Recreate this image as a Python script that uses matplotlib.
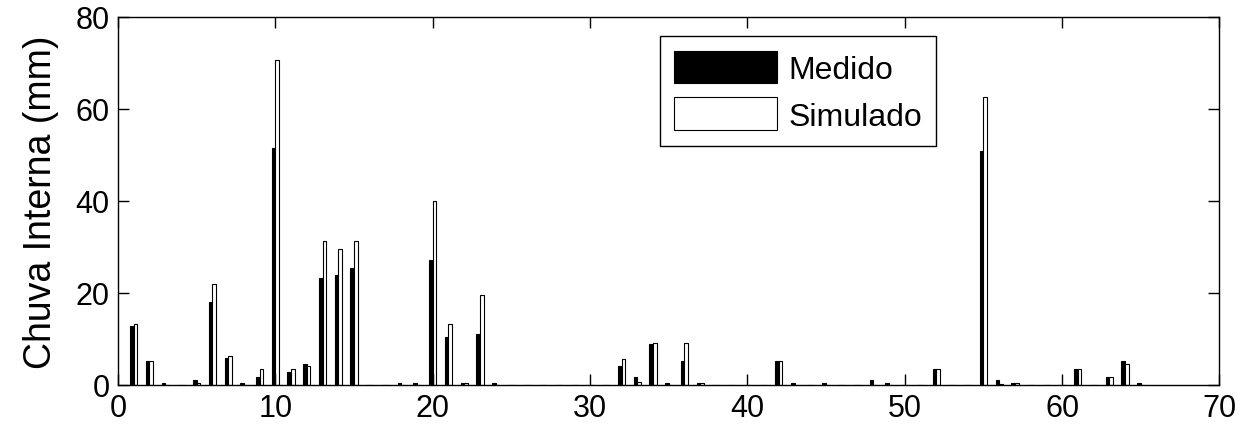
import numpy as np
import matplotlib.pyplot as plt

plt.rcParams['font.family'] = ['Liberation Sans', 'DejaVu Sans']

# daily internal rainfall (mm), days 1..65
dias = list(range(1, 66))
medido = [12.8, 5.2, 0.4, 0, 1.1, 18.0, 5.8, 0.4, 1.8, 51.5,
          2.8, 4.6, 23.2, 23.8, 25.5, 0, 0, 0.5, 0.5, 27.2,
          10.4, 0.4, 11.0, 0.5, 0, 0, 0, 0, 0, 0,
          0, 4.0, 1.7, 8.8, 0.5, 5.1, 0.5, 0, 0, 0,
          0, 5.1, 0.5, 0, 0.5, 0, 0, 1.1, 0.5, 0,
          0, 3.5, 0, 0, 50.9, 1.1, 0.5, 0, 0, 0,
          3.5, 0, 1.7, 5.1, 0.5]
simulado = [13.2, 5.1, 0, 0, 0.5, 22.0, 6.2, 0, 3.4, 70.7,
            3.4, 4.0, 31.3, 29.5, 31.3, 0, 0, 0, 0, 39.9,
            13.2, 0.4, 19.6, 0, 0, 0, 0, 0, 0, 0,
            0, 5.6, 0.6, 9.1, 0, 9.1, 0.5, 0, 0, 0,
            0, 5.1, 0, 0, 0, 0, 0, 0, 0, 0,
            0, 3.4, 0, 0, 62.6, 0.3, 0.5, 0, 0, 0,
            3.4, 0, 1.7, 4.5, 0]

x = np.array(dias)
w = 0.23

fig = plt.figure(figsize=(12.46, 4.39), dpi=100)
ax = fig.add_axes([0.0947, 0.121, 0.884, 0.838])

ax.bar(x - w / 2, medido, width=w, color='black', edgecolor='black',
       linewidth=0.8, label='Medido')
ax.bar(x + w / 2, simulado, width=w, color='white', edgecolor='black',
       linewidth=0.8, label='Simulado')

ax.set_xlim(0, 70)
ax.set_ylim(0, 80)
ax.set_xticks(range(0, 71, 10))
ax.set_yticks(range(0, 81, 20))
ax.tick_params(direction='in', length=8, width=1, labelsize=22,
               top=True, right=True, pad=6)
for s in ax.spines.values():
    s.set_linewidth(1)
ax.set_ylabel('Chuva Interna (mm)', fontsize=27, labelpad=12)

leg = ax.legend(loc='upper left', bbox_to_anchor=(0.492, 0.948),
                borderaxespad=0, fontsize=23, fancybox=False,
                edgecolor='black', framealpha=1, handlelength=3.2,
                handleheight=1.2, borderpad=0.45, labelspacing=0.4,
                handletextpad=0.37)
leg.get_frame().set_linewidth(1)

fig.savefig('out.png', dpi=100)
